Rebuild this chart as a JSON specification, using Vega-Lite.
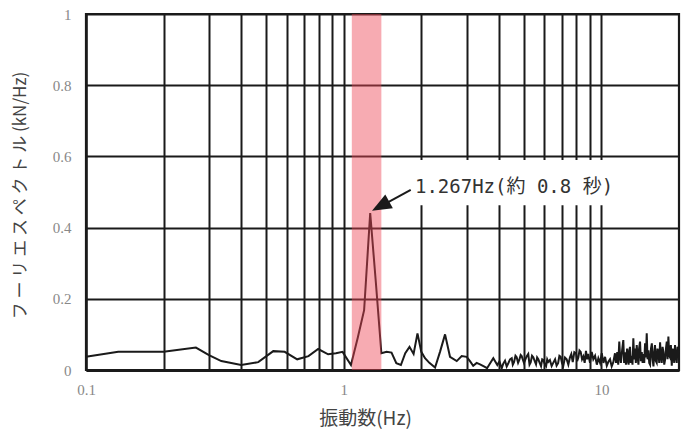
{
  "$schema": "https://vega.github.io/schema/vega-lite/v6.json",
  "width": 593,
  "height": 356,
  "autosize": "none",
  "padding": {"left": 86, "top": 14, "right": 5, "bottom": 73},
  "background": "white",
  "config": {"view": {"stroke": "#1a1a1a", "strokeWidth": 2.2}},
  "datasets": {
    "spec": [
      {"f":0.1,"v":0.037},{"f":0.1334,"v":0.051},{"f":0.2,"v":0.051},{"f":0.267,"v":0.063},{"f":0.3,"v":0.042},
      {"f":0.335,"v":0.025},{"f":0.4,"v":0.014},{"f":0.466,"v":0.022},{"f":0.533,"v":0.053},{"f":0.59,"v":0.051},
      {"f":0.66,"v":0.030},{"f":0.73,"v":0.039},{"f":0.796,"v":0.059},{"f":0.87,"v":0.044},{"f":0.933,"v":0.047},
      {"f":0.99,"v":0.051},{"f":1.067,"v":0.014},{"f":1.133,"v":0.09},{"f":1.2,"v":0.168},{"f":1.267,"v":0.441},
      {"f":1.333,"v":0.245},{"f":1.4,"v":0.047},{"f":1.467,"v":0.051},{"f":1.533,"v":0.049},{"f":1.6,"v":0.019},
      {"f":1.667,"v":0.014},{"f":1.733,"v":0.047},{"f":1.8,"v":0.065},{"f":1.867,"v":0.045},{"f":1.933,"v":0.103},
      {"f":2.0,"v":0.051},{"f":2.068,"v":0.033},{"f":2.15,"v":0.02},{"f":2.262,"v":0.007},{"f":2.364,"v":0.051},
      {"f":2.473,"v":0.100},{"f":2.585,"v":0.037},{"f":2.745,"v":0.025},{"f":2.87,"v":0.039},{"f":3.0,"v":0.037},
      {"f":3.09,"v":0.025},{"f":3.18,"v":0.012},{"f":3.28,"v":0.02},{"f":3.38,"v":0.016},{"f":3.5,"v":0.01},
      {"f":3.6,"v":0.005},{"f":3.7,"v":0.019},{"f":3.806,"v":0.033},{"f":3.945,"v":0.014},{"f":4.02,"v":0.024},{"f":4.104,"v":0.005},
      {"f":4.16,"v":0.018},{"f":4.226,"v":0.026},{"f":4.29,"v":0.01},{"f":4.352,"v":0.019},{"f":4.42,"v":0.03},{"f":4.487,"v":0.033},
      {"f":4.53,"v":0.015},{"f":4.58,"v":0.022},{"f":4.64,"v":0.04},{"f":4.69,"v":0.036},{"f":4.75,"v":0.02},{"f":4.80,"v":0.028},
      {"f":4.86,"v":0.042},{"f":4.904,"v":0.039},{"f":5.006,"v":0.02},{"f":5.07,"v":0.03},{"f":5.13,"v":0.039},{"f":5.2,"v":0.045},
      {"f":5.26,"v":0.015},{"f":5.315,"v":0.021},{"f":5.38,"v":0.04},{"f":5.44,"v":0.036},{"f":5.51,"v":0.025},{"f":5.575,"v":0.016},
      {"f":5.63,"v":0.035},{"f":5.69,"v":0.030},{"f":5.76,"v":0.02},{"f":5.83,"v":0.011},{"f":5.89,"v":0.03},{"f":5.95,"v":0.028},
      {"f":6.02,"v":0.018},{"f":6.10,"v":0.011},{"f":6.16,"v":0.03},{"f":6.22,"v":0.023},{"f":6.31,"v":0.028},{"f":6.41,"v":0.011},
      {"f":6.5,"v":0.02},{"f":6.61,"v":0.030},{"f":6.7,"v":0.012},{"f":6.79,"v":0.019},{"f":6.87,"v":0.04},{"f":6.95,"v":0.037},
      {"f":7.03,"v":0.02},{"f":7.11,"v":0.011},{"f":7.22,"v":0.035},{"f":7.33,"v":0.030},{"f":7.44,"v":0.015},{"f":7.55,"v":0.036},
      {"f":7.64,"v":0.045},{"f":7.74,"v":0.022},{"f":7.85,"v":0.05},{"f":7.97,"v":0.047},{"f":8.05,"v":0.025},{"f":8.14,"v":0.036},
      {"f":8.22,"v":0.055},{"f":8.31,"v":0.051},{"f":8.41,"v":0.03},{"f":8.51,"v":0.038},{"f":8.61,"v":0.02},{"f":8.71,"v":0.054},
      {"f":8.8,"v":0.03},{"f":8.89,"v":0.045},{"f":9.03,"v":0.02},{"f":9.17,"v":0.051},{"f":9.3,"v":0.03},{"f":9.45,"v":0.04},
      {"f":9.6,"v":0.015},{"f":9.73,"v":0.033},{"f":9.88,"v":0.02},{"f":10.03,"v":0.047},{"f":10.18,"v":0.02},{"f":10.33,"v":0.037},
      {"f":10.49,"v":0.012},{"f":10.64,"v":0.023},{"f":10.8,"v":0.03},{"f":10.96,"v":0.01},{"f":11.12,"v":0.022},{"f":11.29,"v":0.047},
      {"f":11.4,"v":0.02},{"f":11.52,"v":0.05},{"f":11.62,"v":0.015},{"f":11.73,"v":0.08},{"f":11.82,"v":0.035},{"f":11.9,"v":0.02},
      {"f":12.03,"v":0.055},{"f":12.16,"v":0.084},{"f":12.25,"v":0.02},{"f":12.35,"v":0.05},{"f":12.45,"v":0.015},{"f":12.58,"v":0.06},
      {"f":12.67,"v":0.025},{"f":12.75,"v":0.015},{"f":12.83,"v":0.055},{"f":12.91,"v":0.065},{"f":13.0,"v":0.02},{"f":13.09,"v":0.04},
      {"f":13.2,"v":0.015},{"f":13.3,"v":0.089},{"f":13.4,"v":0.03},{"f":13.5,"v":0.06},{"f":13.6,"v":0.02},{"f":13.71,"v":0.07},
      {"f":13.8,"v":0.04},{"f":13.92,"v":0.015},{"f":14.0,"v":0.06},{"f":14.12,"v":0.08},{"f":14.23,"v":0.025},{"f":14.34,"v":0.05},
      {"f":14.45,"v":0.02},{"f":14.55,"v":0.045},{"f":14.66,"v":0.02},{"f":14.77,"v":0.075},{"f":14.88,"v":0.035},{"f":14.99,"v":0.103},
      {"f":15.1,"v":0.03},{"f":15.22,"v":0.055},{"f":15.33,"v":0.02},{"f":15.45,"v":0.015},{"f":15.57,"v":0.06},{"f":15.69,"v":0.075},
      {"f":15.8,"v":0.03},{"f":15.92,"v":0.01},{"f":16.03,"v":0.05},{"f":16.14,"v":0.07},{"f":16.26,"v":0.025},{"f":16.39,"v":0.02},
      {"f":16.5,"v":0.06},{"f":16.64,"v":0.05},{"f":16.76,"v":0.02},{"f":16.89,"v":0.078},{"f":17.0,"v":0.04},{"f":17.14,"v":0.02},
      {"f":17.27,"v":0.065},{"f":17.4,"v":0.05},{"f":17.53,"v":0.015},{"f":17.67,"v":0.03},{"f":17.8,"v":0.06},{"f":17.93,"v":0.08},
      {"f":18.06,"v":0.03},{"f":18.19,"v":0.094},{"f":18.33,"v":0.04},{"f":18.47,"v":0.035},{"f":18.6,"v":0.07},{"f":18.75,"v":0.012},
      {"f":18.89,"v":0.06},{"f":19.03,"v":0.05},{"f":19.16,"v":0.02},{"f":19.3,"v":0.07},{"f":19.45,"v":0.04},{"f":19.6,"v":0.02},
      {"f":19.75,"v":0.065},{"f":19.9,"v":0.06},{"f":20.0,"v":0.045}
    ],
    "band": [{"a": 1.075, "b": 1.40}],
    "box": [{"a": 1.86, "b": 11.4, "c": 0.463, "d": 0.59}],
    "note": [{"f": 1.89, "v": 0.514, "t": "1.267Hz(約 0.8 秒)"}],
    "arrow": [{"f": 1.82, "v": 0.506, "f2": 1.383, "v2": 0.459}],
    "head": [{"f": 1.288, "v": 0.447}]
  },
  "layer": [
    {
      "data": {"name": "spec"},
      "mark": {"type": "line", "color": "#1a1a1a", "strokeWidth": 2},
      "encoding": {
        "x": {
          "field": "f", "type": "quantitative",
          "scale": {"type": "log", "domain": [0.1, 20], "nice": false},
          "axis": {
            "values": [0.1,0.2,0.3,0.4,0.5,0.6,0.7,0.8,0.9,1,2,3,4,5,6,7,8,9,10],
            "labelExpr": "datum.value == 0.1 ? '0.1' : datum.value == 1 ? '1' : datum.value == 10 ? '10' : ''",
            "labelOverlap": false, "labelFlush": false,
            "grid": true, "gridColor": "#1a1a1a", "gridWidth": 2, "gridOpacity": 1,
            "domainColor": "#1a1a1a", "domainWidth": 3, "ticks": false,
            "labelFont": "Liberation Serif", "labelFontSize": 15, "labelColor": "#888888", "labelPadding": 12,
            "title": "振動数(Hz)", "titleFont": "Noto Sans CJK JP", "titleFontSize": 19, "titleFontWeight": "normal",
            "titleColor": "#444444", "titleX": 279, "titleY": 48, "titleBaseline": "middle", "titleAlign": "center"
          }
        },
        "y": {
          "field": "v", "type": "quantitative",
          "scale": {"domain": [0, 1], "nice": false},
          "axis": {
            "values": [0, 0.2, 0.4, 0.6, 0.8, 1], "format": "~g",
            "grid": true, "gridColor": "#1a1a1a", "gridWidth": 2, "gridOpacity": 1,
            "domainColor": "#1a1a1a", "domainWidth": 2.2, "ticks": false,
            "labelFont": "Liberation Serif", "labelFontSize": 15, "labelColor": "#888888", "labelPadding": 15,
            "title": "フ ー リ エ ス ペ ク ト ル (kN/Hz)", "titleFont": "Noto Sans CJK JP", "titleFontSize": 17,
            "titleFontWeight": "normal", "titleColor": "#444444",
            "titleX": -66, "titleY": 181, "titleAngle": -90, "titleBaseline": "middle", "titleAlign": "center"
          }
        }
      }
    },
    {
      "data": {"name": "band"},
      "mark": {"type": "rect", "color": "#ee4455", "opacity": 0.45},
      "encoding": {
        "x": {"field": "a", "type": "quantitative"},
        "x2": {"field": "b"},
        "y": {"datum": 0, "type": "quantitative"},
        "y2": {"datum": 1}
      }
    },
    {
      "data": {"name": "box"},
      "mark": {"type": "rect", "color": "white", "opacity": 1},
      "encoding": {
        "x": {"field": "a", "type": "quantitative"},
        "x2": {"field": "b"},
        "y": {"field": "c", "type": "quantitative"},
        "y2": {"field": "d"}
      }
    },
    {
      "data": {"name": "arrow"},
      "mark": {"type": "rule", "color": "#1a1a1a", "strokeWidth": 2},
      "encoding": {
        "x": {"field": "f", "type": "quantitative"},
        "y": {"field": "v", "type": "quantitative"},
        "x2": {"field": "f2"},
        "y2": {"field": "v2"}
      }
    },
    {
      "data": {"name": "head"},
      "mark": {"type": "point", "shape": "M0,0L0.8,2L-0.8,2Z", "filled": true, "color": "#1a1a1a", "opacity": 1, "size": 380, "angle": 241},
      "encoding": {
        "x": {"field": "f", "type": "quantitative"},
        "y": {"field": "v", "type": "quantitative"}
      }
    },
    {
      "data": {"name": "note"},
      "mark": {"type": "text", "align": "left", "baseline": "middle", "font": "DejaVu Sans Mono, Noto Sans CJK JP", "fontSize": 19, "color": "#333333"},
      "encoding": {
        "x": {"field": "f", "type": "quantitative"},
        "y": {"field": "v", "type": "quantitative"},
        "text": {"field": "t"}
      }
    }
  ]
}
